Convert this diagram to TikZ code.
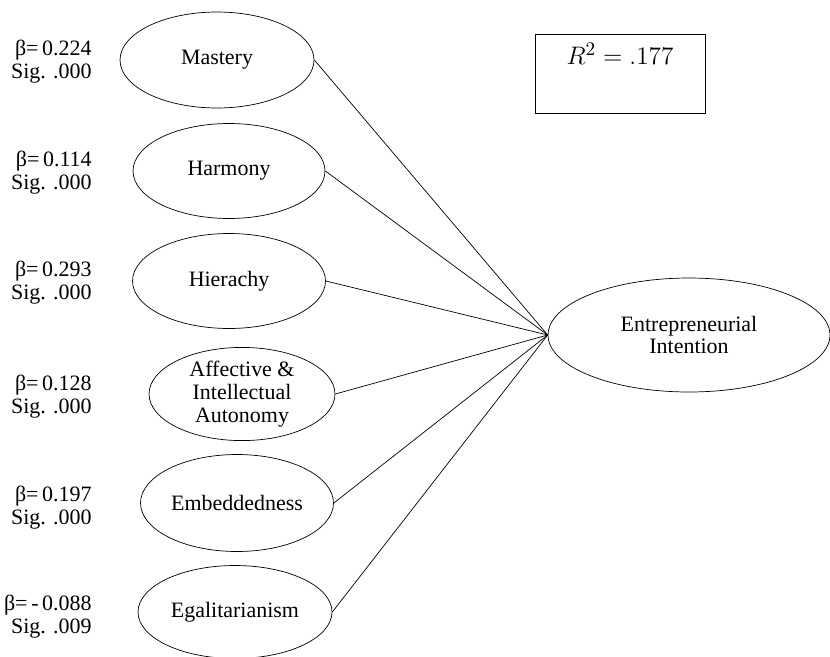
\documentclass[tikz,border=0pt]{standalone}
\usepackage{fontspec}
\setmainfont{Liberation Serif}
\usepackage{tikz}
\usetikzlibrary{shapes.geometric}

\begin{document}
\begin{tikzpicture}[x=0.02cm, y=-0.02cm,
	factor/.style={ellipse, draw, inner sep=0, align=center, font=\fontsize{12.5}{13}\selectfont},
	coef/.style={anchor=east, align=right, inner sep=0, font=\fontsize{12.5}{13}\selectfont}
]
\useasboundingbox (0,0) rectangle (830,656);

\node[factor, minimum width=3.88cm, minimum height=1.92cm] (mastery) at (217,60) {Mastery};
\node[factor, minimum width=3.84cm, minimum height=1.9cm] (harmony) at (229,171) {Harmony};
\node[factor, minimum width=3.86cm, minimum height=1.9cm] (hierachy) at (229,281) {Hierachy};
\node[factor, minimum width=3.72cm, minimum height=1.86cm] (autonomy) at (242,394) {Affective \&\\Intellectual\\Autonomy};
\node[factor, minimum width=3.86cm, minimum height=1.94cm] (embed) at (237,503) {Embeddedness};
\node[factor, minimum width=3.88cm, minimum height=1.86cm] (egal) at (235,612) {Egalitarianism};

\node[factor, minimum width=5.64cm, minimum height=2.28cm] (intent) at (689,335) {Entrepreneurial\\Intention};

\node[coef] (coef1) at (92,62) {β=\,0.224\\Sig. .000};
\node[coef] (coef2) at (92,173) {β=\,0.114\\Sig. .000};
\node[coef] (coef3) at (92,283) {β=\,0.293\\Sig. .000};
\node[coef] (coef4) at (92,397) {β=\,0.128\\Sig. .000};
\node[coef] (coef5) at (92,508) {β=\,0.197\\Sig. .000};
\node[coef] (coef6) at (92,617) {β=\,-\,0.088\\Sig. .009};

\node[draw, anchor=north, inner xsep=0, inner ysep=0, minimum width=3.4cm, text height=0.6cm, text depth=0.98cm, font=\fontsize{15.5}{16}\selectfont] (rsq) at (620,34) {$R^2 = .177$};

\draw (mastery.east) -- (intent.west);
\draw (harmony.east) -- (intent.west);
\draw (hierachy.east) -- (intent.west);
\draw (autonomy.east) -- (intent.west);
\draw (embed.east) -- (intent.west);
\draw (egal.east) -- (intent.west);
\end{tikzpicture}
\end{document}
